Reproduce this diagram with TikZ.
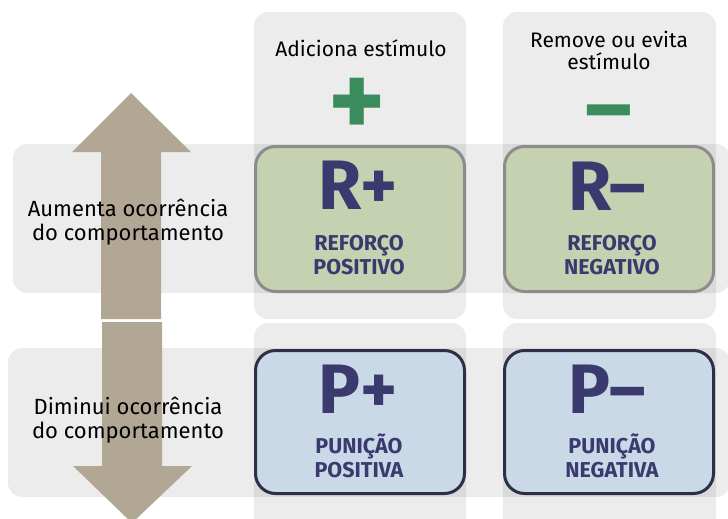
\documentclass[tikz,border=0pt]{standalone}
\usepackage{fontspec}
\setmainfont{Fira Sans}
\definecolor{navy}{HTML}{3B3A6E}
\definecolor{plusgreen}{HTML}{3A8C5C}
\definecolor{tan}{HTML}{B2A794}
\definecolor{boxgreen}{HTML}{C6D1B1}
\definecolor{boxblue}{HTML}{C9D9E7}
\definecolor{greyline}{HTML}{8C8C8C}
\definecolor{darkline}{HTML}{2E2E48}
\tikzset{
  panel/.style={fill=black, fill opacity=0.075, draw=none, rounded corners=14pt},
  cellbox/.style={rounded corners=20pt, line width=3pt, inner sep=0pt},
  rbox/.style={cellbox, draw=greyline, fill=boxgreen, minimum width=209pt, minimum height=145pt},
  pbox/.style={cellbox, draw=darkline, fill=boxblue, minimum width=209pt, minimum height=143pt},
  bigsym/.style={font=\bfseries\fontsize{70}{70}\selectfont, text=navy, anchor=base, inner sep=0pt},
  celltext/.style={font=\bfseries\fontsize{21.5}{23.5}\selectfont, text=navy, align=center, anchor=base, inner sep=0pt},
  sidelabel/.style={font=\fontsize{22}{23.5}\selectfont, text=black, align=center, anchor=base, inner sep=0pt},
  headlabel/.style={font=\fontsize{21}{22}\selectfont, text=black, align=center, anchor=base, inner sep=0pt},
  signsym/.style={font=\bfseries, text=plusgreen, inner sep=0pt},
  arrowshape/.style={fill=tan, draw=none}
}
\begin{document}
\begin{tikzpicture}[x=1pt,y=-1pt]
\useasboundingbox (0,0) rectangle (728,519);
\clip (0,0) rectangle (728,519);
% column panels
\fill[panel] (254,12) rectangle (466,319);
\fill[panel] (254,323) rectangle (466,560);
\fill[panel] (503,12) rectangle (716,319);
\fill[panel] (503,323) rectangle (716,560);
% row panels
\fill[panel] (13,144) rectangle (730,293);
\fill[panel] (8,348) rectangle (730,497);
% arrows
\fill[arrowshape] (131,93) -- (191,152) -- (161,152) -- (161,319) -- (101,319) -- (101,152) -- (72,152) -- cycle;
\fill[arrowshape] (102,322) -- (162,322) -- (162,466) -- (192,466) -- (132,523) -- (73,466) -- (102,466) -- cycle;
% side labels
\node[sidelabel] (up) at (128,240) {Aumenta ocorrência\\do comportamento};
\node[sidelabel] (down) at (128,438) {Diminui ocorrência\\do comportamento};
% headers
\node[headlabel] (h1) at (361,57) {Adiciona estímulo};
\node[headlabel] (h2) at (609,70) {Remove ou evita\\estímulo};
\node[signsym, font=\bfseries\fontsize{108}{108}\selectfont] (plus) at (357,108) {+};
\node[signsym, font=\bfseries\fontsize{90}{90}\selectfont] (minus) at (609,122) {–};
% boxes
\node[rbox] (rp) at (360,219) {};
\node[rbox] (rm) at (609,219) {};
\node[pbox] (pp) at (360,422) {};
\node[pbox] (pm) at (609,422) {};
% box texts
\node[bigsym] (rpt) at (358,209) {R+};
\node[bigsym] (rmt) at (607,210) {R–};
\node[bigsym] (ppt) at (358,413) {P+};
\node[bigsym] (pmt) at (607,413) {P–};
\node[celltext] (rpl) at (359,274) {REFORÇO\\POSITIVO};
\node[celltext] (rml) at (612,274) {REFORÇO\\NEGATIVO};
\node[celltext] (ppl) at (359,477) {PUNIÇÃO\\POSITIVA};
\node[celltext] (pml) at (612,477) {PUNIÇÃO\\NEGATIVA};
\end{tikzpicture}
\end{document}
